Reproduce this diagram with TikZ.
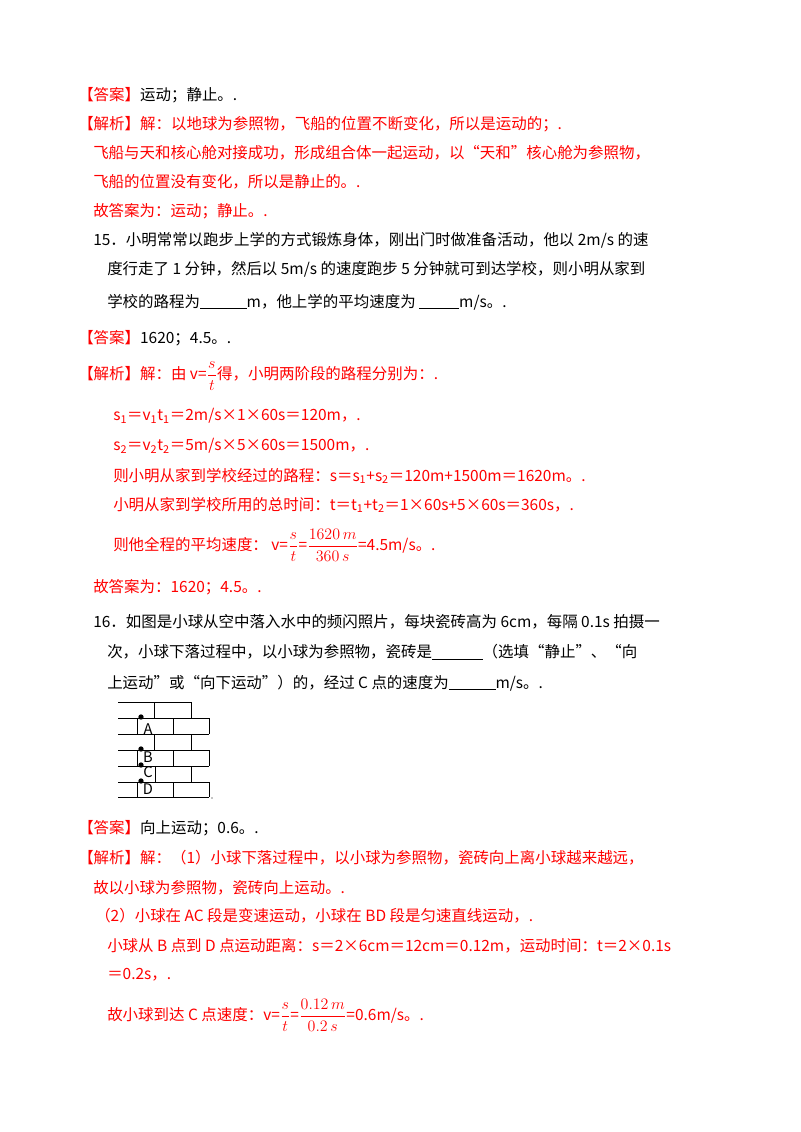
\documentclass[tikz,border=0pt]{standalone}
\usepackage{amsmath}
\usepackage{fontspec}
\setmainfont{Noto Sans CJK SC}
\usepackage{xcolor}
\definecolor{ansred}{RGB}{255,0,0}
\newcommand\blank[1]{\rule[-1.5pt]{#1}{0.6pt}}
\newcommand\fr[2]{$\dfrac{#1}{#2}$}
\tikzset{
  txt/.style={anchor=west, inner sep=0pt, font=\fontsize{11.6}{14}\selectfont},
  red/.style={txt, text=ansred},
  brick/.style={black, line width=0.6pt}
}
\begin{document}
\begin{tikzpicture}[x=0.75pt,y=-0.75pt]
        \useasboundingbox (0,0) rectangle (800,1132);

        % answer to 14
        \node[txt] (a14) at (78,95) {\textcolor{ansred}{【答案】}运动；静止。.};
        \node[red] (j14a) at (78,124) {【解析】解：以地球为参照物，飞船的位置不断变化，所以是运动的；.};
        \node[red] (j14b) at (93,153) {飞船与天和核心舱对接成功，形成组合体一起运动，以“天和”核心舱为参照物，};
        \node[red] (j14c) at (93,182) {飞船的位置没有变化，所以是静止的。.};
        \node[red] (g14) at (93,211) {故答案为：运动；静止。.};

        % question 15
        \node[txt] (q15a) at (93,240) {15．小明常常以跑步上学的方式锻炼身体，刚出门时做准备活动，他以 2m/s 的速};
        \node[txt] (q15b) at (107,269) {度行走了 1 分钟，然后以 5m/s 的速度跑步 5 分钟就可到达学校，则小明从家到};
        \node[txt] (q15c) at (107,302) {学校的路程为\blank{35pt}m，他上学的平均速度为 \blank{30pt}m/s。.};
        \node[txt] (a15) at (78,338) {\textcolor{ansred}{【答案】}1620；4.5。.};
        \node[red] (j15a) at (78,376) {【解析】解：由 v=\fr{s}{t}得，小明两阶段的路程分别为：.};
        \node[red] (j15b) at (113,416) {s\textsubscript{1}＝v\textsubscript{1}t\textsubscript{1}＝2m/s×1×60s＝120m，.};
        \node[red] (j15c) at (113,446) {s\textsubscript{2}＝v\textsubscript{2}t\textsubscript{2}＝5m/s×5×60s＝1500m，.};
        \node[red] (j15d) at (113,476) {则小明从家到学校经过的路程：s＝s\textsubscript{1}+s\textsubscript{2}＝120m+1500m＝1620m。.};
        \node[red] (j15e) at (113,505) {小明从家到学校所用的总时间：t＝t\textsubscript{1}+t\textsubscript{2}＝1×60s+5×60s＝360s，.};
        \node[red] (j15f) at (113,545) {则他全程的平均速度： v=\fr{s}{t}=\fr{1620\,m}{360\,s}=4.5m/s。.};
        \node[red] (g15) at (93,587) {故答案为：1620；4.5。.};

        % question 16
        \node[txt] (q16a) at (93,622) {16．如图是小球从空中落入水中的频闪照片，每块瓷砖高为 6cm，每隔 0.1s 拍摄一};
        \node[txt] (q16b) at (107,652) {次，小球下落过程中，以小球为参照物，瓷砖是\blank{38pt}（选填“静止”、“向};
        \node[txt] (q16c) at (107,683) {上运动”或“向下运动”）的，经过 C 点的速度为\blank{35pt}m/s。.};

        % bricks
        \draw[brick] (118,702) -- (191,702) (118,718) -- (209,718)
          (118,734) -- (209,734) (118,750) -- (209,750) (118,766) -- (209,766)
          (118,782) -- (209,782) (118,797) -- (209,797);
        \draw[brick] (154,702) -- (154,718) (191,702) -- (191,718)
          (137,718) -- (137,734) (173,718) -- (173,734) (209,718) -- (209,734)
          (154,734) -- (154,750) (191,734) -- (191,750)
          (137,750) -- (137,766) (173,750) -- (173,766) (209,750) -- (209,766)
          (155,766) -- (155,782) (191,766) -- (191,782)
          (137,782) -- (137,797) (173,782) -- (173,797) (209,782) -- (209,797);
        \foreach \y/\l/\ly in {717/A/729,749/B/757,765/C/772,781/D/789} {
          \fill (141,\y) circle (2pt);
          \node[inner sep=0pt, font=\fontsize{11}{12}\selectfont] (pt\l) at (148,\ly) {\l};
        }
        \fill (212,798) circle (0.5pt);

        % answer to 16
        \node[txt] (a16) at (78,828) {\textcolor{ansred}{【答案】}向上运动；0.6。.};
        \node[red] (j16a) at (78,858) {【解析】解：（1）小球下落过程中，以小球为参照物，瓷砖向上离小球越来越远，};
        \node[red] (j16b) at (93,888) {故以小球为参照物，瓷砖向上运动。.};
        \node[red] (j16c) at (95,916) {（2）小球在 AC 段是变速运动，小球在 BD 段是匀速直线运动，.};
        \node[red] (j16d) at (107,946) {小球从 B 点到 D 点运动距离：s＝2×6cm＝12cm＝0.12m，运动时间：t＝2×0.1s};
        \node[red] (j16e) at (107,975) {＝0.2s，.};
        \node[red] (j16f) at (107,1015) {故小球到达 C 点速度：v=\fr{s}{t}=\fr{0.12\,m}{0.2\,s}=0.6m/s。.};
    \end{tikzpicture}
\end{document}
